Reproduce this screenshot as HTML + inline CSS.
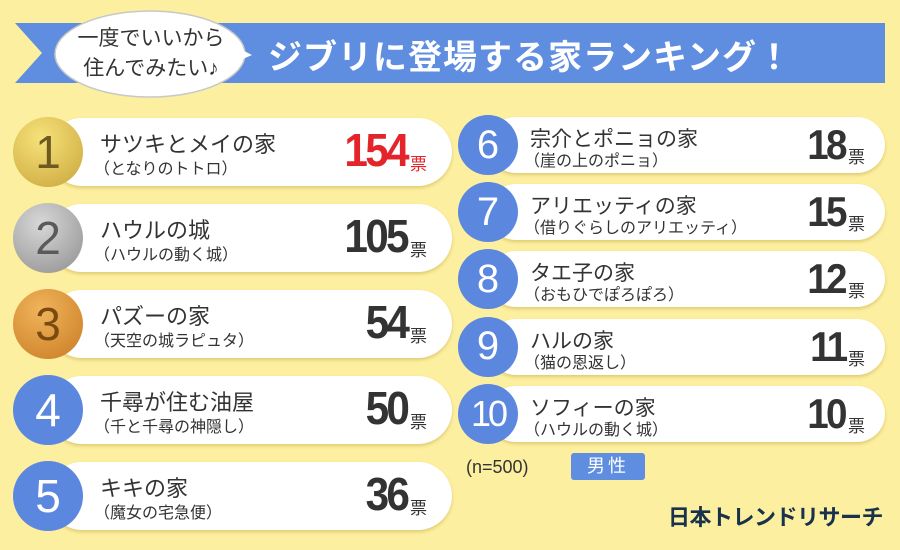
<!DOCTYPE html>
<html><head><meta charset="utf-8">
<style>
body{margin:0;width:900px;height:550px;overflow:hidden;background:#fcef9f;font-family:"Liberation Sans","Noto Sans CJK JP",sans-serif;position:relative}
.abs{position:absolute}
.pill{position:absolute;background:#fff;border-radius:40px;box-shadow:0 2px 3px rgba(190,160,60,.45)}
.circ{position:absolute;border-radius:50%;display:flex;align-items:center;justify-content:center;font-family:"Liberation Sans",sans-serif;color:#fff}
.name{position:absolute;color:#333;white-space:nowrap}
.num{position:absolute;color:#333;font-weight:bold;text-align:right;white-space:nowrap;letter-spacing:-3px;transform:scaleX(.92);transform-origin:right center}
.hyo{position:absolute;color:#333;white-space:nowrap}
</style></head><body>
<svg class="abs" style="left:0;top:0" width="900" height="110">
<polygon points="15,23 885,23 885,83 15,83 42,53" fill="#5f8de0"/>
<ellipse cx="150" cy="54" rx="95" ry="43" fill="#fff" stroke="#c8c8c8" stroke-width="1.5"/>
<polygon points="238,48 252,55 236,62" fill="#fff"/>
</svg>
<div class="abs" style="left:68px;top:24px;width:166px;text-align:center;font-size:21px;line-height:30px;color:#333">一度でいいから<br>住んでみたい♪</div>
<div class="abs" style="left:268px;top:30px;font-size:34px;font-weight:bold;color:#fff;letter-spacing:1px;white-space:nowrap">ジブリに登場する家ランキング！</div>
<div id="rows"></div>
<div class="abs" style="left:466px;top:457px;font-size:18px;color:#333">(n=500)</div>
<div class="abs" style="left:571px;top:453px;width:74px;height:27px;background:#5f8de0;border-radius:3px;color:#fff;font-size:18px;text-align:center;line-height:27px;letter-spacing:3px">男性</div>
<div class="abs" style="left:668px;top:500px;font-size:22px;font-weight:bold;color:#17324a;white-space:nowrap;letter-spacing:-0.5px">日本トレンドリサーチ</div>
<script>
const ranks=[1,2,3,4,5,6,7,8,9,10];
const names=["サツキとメイの家","ハウルの城","パズーの家","千尋が住む油屋","キキの家","宗介とポニョの家","アリエッティの家","タエ子の家","ハルの家","ソフィーの家"];
const subs=["（となりのトトロ）","（ハウルの動く城）","（天空の城ラピュタ）","（千と千尋の神隠し）","（魔女の宅急便）","（崖の上のポニョ）","（借りぐらしのアリエッティ）","（おもひでぽろぽろ）","（猫の恩返し）","（ハウルの動く城）"];
const votes=[154,105,54,50,36,18,15,12,11,10];
const fills=["radial-gradient(circle at 40% 30%,#f6e27a,#c9a53a)","radial-gradient(circle at 40% 30%,#d8d8d8,#8e8e8e)","radial-gradient(circle at 40% 30%,#f0b45a,#c97b24)"];
const numCol=["#6e5a20","#5a5a5a","#7a4a10"];
const root=document.getElementById('rows');
function mk(cls,css,txt){const d=document.createElement('div');d.className=cls;d.style.cssText=css;if(txt!==undefined)d.textContent=txt;root.appendChild(d);return d;}
ranks.forEach((r,i)=>{
  let left=i<5;
  let cy,cx,rad,pl,pr,ph;
  if(left){cy=152+i*86;cx=48;rad=35;pl=48;pr=452;ph=68;}
  else{let j=i-5;cy=145+j*67.2;cx=488;rad=30;pl=488;pr=885;ph=56;}
  const p=mk('pill',`left:${pl}px;top:${cy-ph/2}px;width:${pr-pl}px;height:${ph}px`);
  
  
  const bg=left&&i<3?fills[i]:'#5b87de';
  const col=left&&i<3?numCol[i]:'#fff';
  const fs=r===10?36:(left?46:40);
  const c=mk('circ',`left:${cx-rad}px;top:${cy-rad}px;width:${rad*2}px;height:${rad*2}px;background:${bg};color:${col};font-size:${fs}px;${r===10?'letter-spacing:-3px;':''}`,String(r));
  
  
  const tx=left?100:530;
  const n=mk('name',`left:${tx}px;top:${cy-(left?25:22)}px;font-size:${left?22:21}px`,names[i]);
  
  
  const s=mk('name',`left:${tx-6}px;top:${cy+(left?3:2)}px;font-size:16px`,subs[i]);
  
  
  const nr=left?407:845;
  const v=mk('num',`right:${900-nr}px;top:${cy-(left?28:26)}px;font-size:${left?46:42}px;line-height:52px;color:${i===0?'#e3242b':'#333'}`,String(votes[i]));
  
  
  const h=mk('hyo',`left:${nr+3}px;top:${cy-2}px;font-size:17px;color:${i===0?'#e3242b':'#333'}`,'票');
  
  
});
</script>
</body></html>
